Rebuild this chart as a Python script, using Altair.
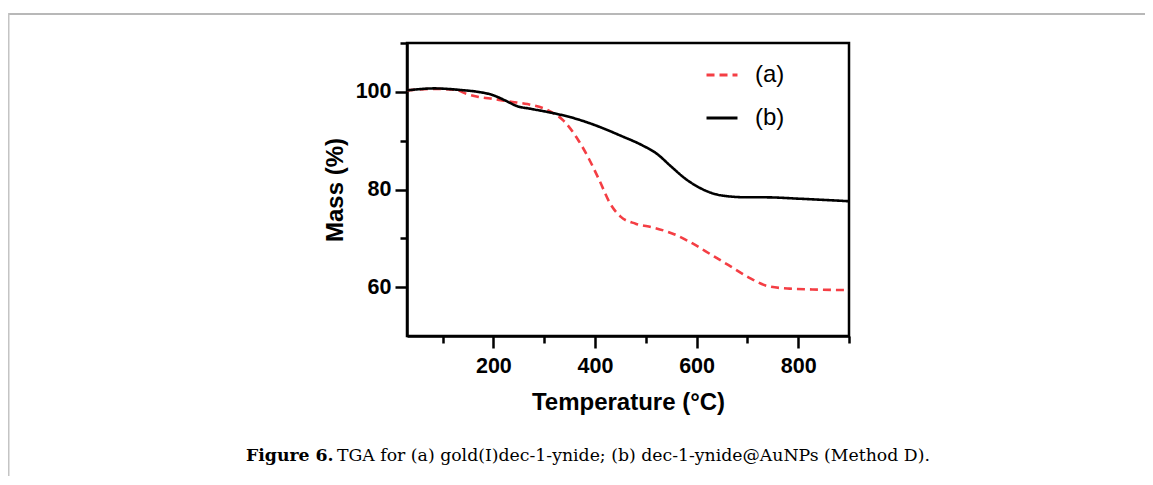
import altair as alt
import pandas as pd

# ---- data ----
temp_a = [30, 84, 126, 147, 169, 204, 232, 267, 310, 338, 366, 388, 409, 430, 451,
          480, 515, 557, 593, 628, 663, 706, 741, 783, 840, 900]
mass_a = [100.3, 100.6, 100.4, 99.6, 99.0, 98.5, 98.0, 97.5, 96.1, 94.1, 90.3, 86.3,
          81.8, 77.1, 74.4, 73.0, 72.2, 70.8, 68.9, 66.7, 64.5, 61.8, 60.2, 59.7, 59.5, 59.4]

temp_b = [30, 84, 133, 169, 197, 222, 246, 275, 310, 352, 402, 451, 494, 522, 550,
          578, 607, 635, 663, 699, 734, 805, 900]
mass_b = [100.3, 100.7, 100.4, 100.0, 99.4, 98.3, 97.1, 96.5, 95.8, 94.8, 93.1, 91.0,
          89.0, 87.3, 84.7, 82.2, 80.3, 79.1, 78.6, 78.4, 78.4, 78.1, 77.6]

series_names = ["(a)", "(b)"]
x_ticks = [100, 200, 300, 400, 500, 600, 700, 800, 900]
y_ticks = [60, 70, 80, 90, 100, 110]
caption_bold = "Figure 6."
caption_text = "TGA for (a) gold(I)dec-1-ynide; (b) dec-1-ynide@AuNPs (Method D)."

df = pd.concat([
    pd.DataFrame({"T": temp_a, "M": mass_a, "s": series_names[0]}),
    pd.DataFrame({"T": temp_b, "M": mass_b, "s": series_names[1]}),
])

W, H = 442, 293
PAD = {"left": 399, "top": 35, "right": 296, "bottom": 140}
FONT = "Liberation Sans"

lines = alt.Chart(df).mark_line(strokeWidth=2.6, interpolate="monotone", clip=True).encode(
    x=alt.X("T:Q", scale=alt.Scale(domain=[30, 900], nice=False, zero=False),
            axis=alt.Axis(values=x_ticks, title="Temperature (°C)",
                          labelExpr="datum.value % 200 == 0 ? datum.label : ''",
                          tickSize={"condition": {"test": "datum.value % 200 == 0", "value": 12}, "value": 7},
                          labelPadding=7, titlePadding=14)),
    y=alt.Y("M:Q", scale=alt.Scale(domain=[50, 110], nice=False, zero=False),
            axis=alt.Axis(values=y_ticks, title="Mass (%)",
                          labelExpr="datum.value % 20 == 0 ? datum.label : ''",
                          tickSize={"condition": {"test": "datum.value % 20 == 0", "value": 12}, "value": 7},
                          labelPadding=4, titlePadding=8)),
    color=alt.Color("s:N", scale=alt.Scale(domain=series_names, range=["#f43e44", "#000000"]),
                    legend=alt.Legend(title=None, orient="none", legendX=298, legendY=15,
                                      symbolType="stroke", symbolSize=960, symbolStrokeWidth=3,
                                      labelFontSize=24, labelFont=FONT, labelOffset=16,
                                      rowPadding=14, labelColor="black")),
    strokeDash=alt.StrokeDash("s:N", scale=alt.Scale(domain=series_names, range=[[8, 5], [1, 0]]),
                              legend=None),
)

blank = alt.Data(values=[{}])
border_top = alt.Chart(blank).mark_rule(color="#b8b8b8", strokeWidth=2).encode(
    x=alt.value(-399), x2=alt.value(738), y=alt.value(-29))
border_left = alt.Chart(blank).mark_rule(color="#c4c4c4", strokeWidth=2).encode(
    x=alt.value(-398.5), y=alt.value(-30), y2=alt.value(H + PAD["bottom"]))

cap1 = alt.Chart(blank).mark_text(text=caption_bold, font="DejaVu Serif", fontSize=17.3,
                                  fontWeight="bold", align="left", baseline="alphabetic",
                                  color="black").encode(x=alt.value(-161), y=alt.value(418))
cap2 = alt.Chart(blank).mark_text(text=caption_text, font="DejaVu Serif", fontSize=17.3,
                                  align="left", baseline="alphabetic",
                                  color="black").encode(x=alt.value(-70), y=alt.value(418))

chart = alt.layer(border_top, border_left, lines, cap1, cap2).properties(
    width=W, height=H, padding=PAD,
    autosize=alt.AutoSizeParams(type="none"),
).configure_view(stroke="black", strokeWidth=2.5).configure_axis(
    domainColor="black", domainWidth=2.5, tickColor="black", tickWidth=2.5,
    labelFont=FONT, labelFontSize=21.5, labelFontWeight="bold", labelColor="black",
    titleFont=FONT, titleFontSize=24, titleFontWeight="bold", titleColor="black",
    grid=False,
)

chart.save("out.html", embed_options={"renderer": "svg", "actions": False})
